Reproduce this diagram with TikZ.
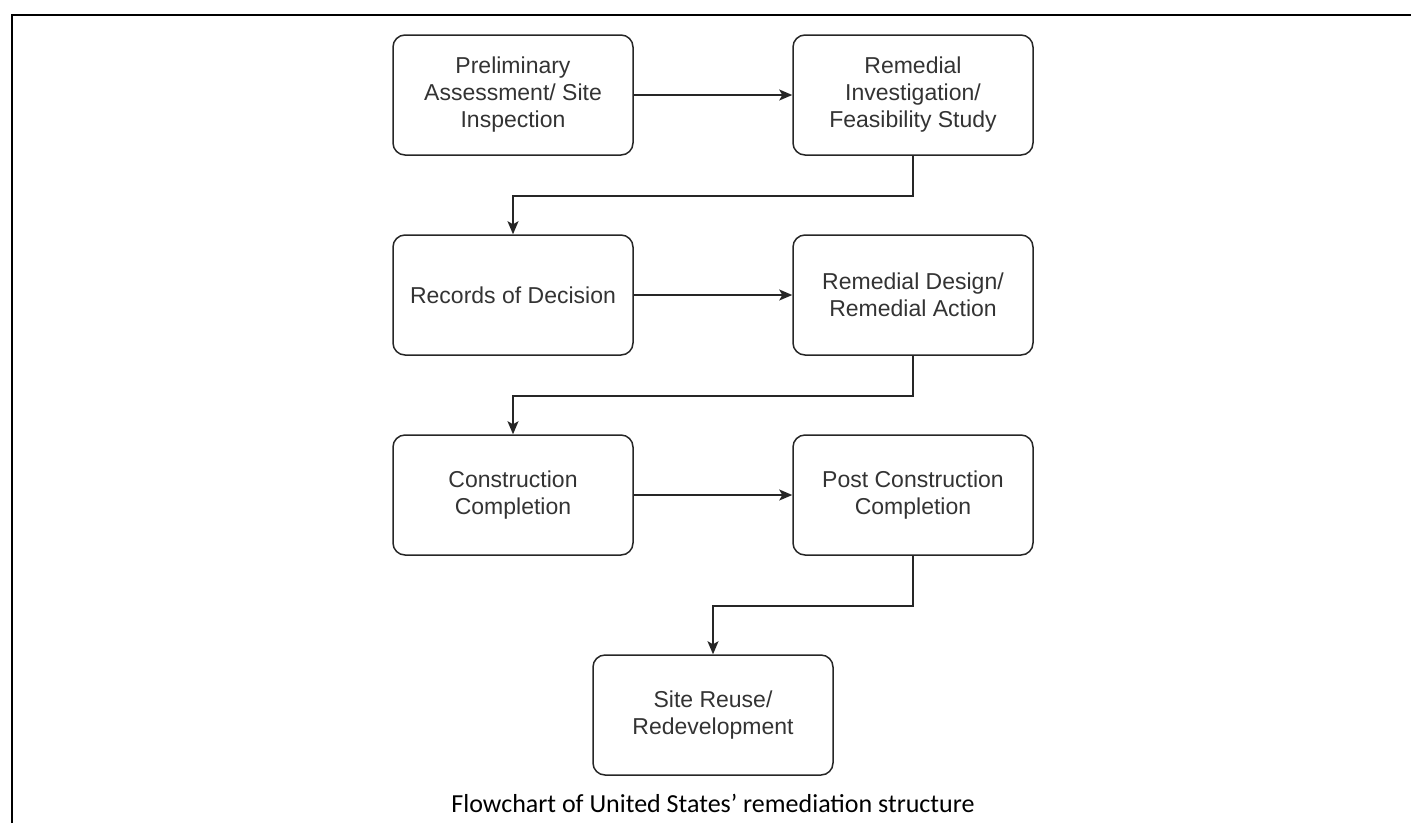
\documentclass[tikz,border=0pt]{standalone}
\usepackage{fontspec}
\setmainfont{Liberation Sans}
\newfontfamily\captionfont{Carlito}
\usetikzlibrary{arrows.meta}

\begin{document}
\begin{tikzpicture}[x=1pt,y=-1pt,
  stagebox/.style={draw=black!85, line width=1.5pt, rounded corners=12pt,
    minimum width=240pt, minimum height=120pt, align=center,
    text=black!80, font=\fontsize{23}{27}\selectfont, inner sep=0pt},
  flow/.style={draw=black!85, line width=1.5pt,
    -{Stealth[length=13pt,width=11pt,inset=3pt]}}]
  % page extent and the open frame (left and top edges)
  \useasboundingbox (0,0) rectangle (1411,823);
  \draw[line width=2pt] (12,823) -- (12,15) -- (1411,15);

  % remediation stages
  \node[stagebox] (pa)  at (513,95)  {Preliminary\\Assessment/ Site\\Inspection};
  \node[stagebox] (ri)  at (913,95)  {Remedial\\Investigation/\\Feasibility Study};
  \node[stagebox] (rod) at (513,295) {Records of Decision};
  \node[stagebox] (rd)  at (913,295) {Remedial Design/\\Remedial Action};
  \node[stagebox] (cc)  at (513,495) {Construction\\Completion};
  \node[stagebox] (pcc) at (913,495) {Post Construction\\Completion};
  \node[stagebox] (sr)  at (713,715) {Site Reuse/\\Redevelopment};

  % connectors
  \draw[flow] (pa.east) -- (ri.west);
  \draw[flow] (ri.south) -- ++(0,40) -| (rod.north);
  \draw[flow] (rod.east) -- (rd.west);
  \draw[flow] (rd.south) -- ++(0,40) -| (cc.north);
  \draw[flow] (cc.east) -- (pcc.west);
  \draw[flow] (pcc.south) -- ++(0,50) -| (sr.north);

  % caption
  \node[font=\captionfont\fontsize{26}{30}\selectfont, anchor=base] (cap) at (713,812)
    {Flowchart of United States’ remediation structure};
\end{tikzpicture}
\end{document}
